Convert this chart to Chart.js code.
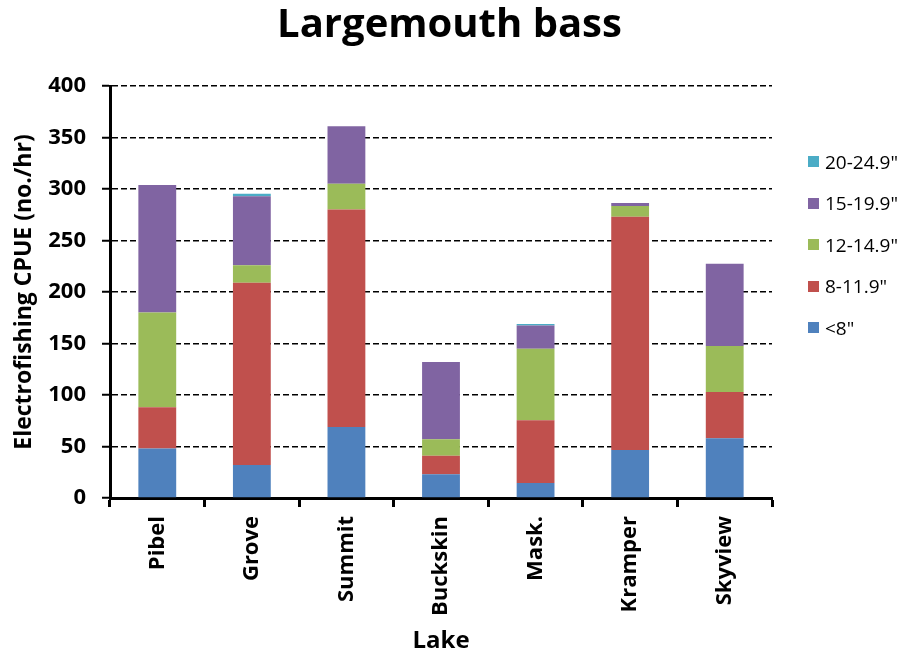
<!DOCTYPE html>
<html>
<head>
<meta charset="utf-8">
<title>Largemouth bass</title>
<script src="https://cdn.jsdelivr.net/npm/chart.js@4.4.0/dist/chart.umd.min.js"></script>
<style>
  body { margin: 0; background: #fff; }
  #wrap { position: relative; width: 899px; height: 656px; }
  #title {
    position: absolute; left: 0; top: -2px; width: 899px; text-align: center;
    font-family: "Open Sans", sans-serif; font-weight: bold; font-size: 40px; line-height: 48px; color: #000;
  }
  #legend {
    position: absolute; left: 808px; top: 141px; white-space: nowrap;
    font-family: "Open Sans", sans-serif; font-size: 19px; color: #000;
  }
  .legend-item { height: 41.5px; display: flex; align-items: center; }
  .legend-box { width: 11px; height: 11px; margin-right: 6px; }
</style>
</head>
<body>
<div id="wrap">
  <canvas id="chart" width="899" height="656"></canvas>
  <div id="title">Largemouth bass</div>
  <div id="legend"></div>
</div>
<script>
/* ── Data ────────────────────────────────────────────── */
const lakes = ['Pibel', 'Grove', 'Summit', 'Buckskin', 'Mask.', 'Kramper', 'Skyview'];

const under8   = [48, 32, 69, 23, 14.5, 46.5, 58];
const in8to12  = [40, 177, 211, 18, 61, 226.5, 45];
const in12to15 = [92, 17, 25, 16, 69.5, 10.5, 44.5];
const in15to20 = [124, 67, 56, 75, 22.5, 3, 80];
const in20to25 = [0, 2.5, 0, 0, 1.5, 0, 0];

const sizeClasses = ['<8"', '8-11.9"', '12-14.9"', '15-19.9"', '20-24.9"'];
const classColors = ['#4F81BD', '#C0504D', '#9BBB59', '#8064A2', '#4BACC6'];
const yTicks = [0, 50, 100, 150, 200, 250, 300, 350, 400];

/* ── Chart ───────────────────────────────────────────── */
const FONT = '"Open Sans", sans-serif';

const series = [under8, in8to12, in12to15, in15to20, in20to25];
const datasets = series.map((data, i) => ({
  label: sizeClasses[i],
  data,
  backgroundColor: classColors[i],
  borderWidth: 0,
  barPercentage: 0.4,
  categoryPercentage: 1
}));

new Chart(document.getElementById('chart'), {
  type: 'bar',
  data: { labels: lakes, datasets },
  options: {
    responsive: false,
    animation: false,
    devicePixelRatio: 1,
    layout: { padding: { left: 0, right: 127, top: 86, bottom: 0 } },
    plugins: {
      legend: { display: false },
      tooltip: { enabled: false }
    },
    scales: {
      x: {
        stacked: true,
        afterFit: s => { s.height = 158; },
        border: { display: true, color: '#000', width: 3 },
        grid: { drawOnChartArea: false, drawTicks: true, tickLength: 9, tickWidth: 3, tickColor: '#000' },
        ticks: {
          color: '#000', padding: 9, minRotation: 90, maxRotation: 90, autoSkip: false,
          font: { family: FONT, size: 22, weight: 'bold' }
        },
        title: {
          display: true, text: 'Lake', color: '#000',
          font: { family: FONT, size: 24, weight: 'bold' },
          padding: { top: 0, bottom: 0 }
        }
      },
      y: {
        stacked: true,
        min: 0,
        max: 400,
        afterFit: s => { s.width = 110; },
        afterBuildTicks: s => { s.ticks = yTicks.map(v => ({ value: v })); },
        border: { display: true, color: '#000', width: 3, dash: [6, 3] },
        grid: { color: '#000', lineWidth: 1.5, tickLength: 8, tickWidth: 2, tickColor: '#000' },
        ticks: {
          color: '#000', padding: 16,
          font: { family: FONT, size: 22, weight: 'bold' }
        },
        title: {
          display: true, text: 'Electrofishing CPUE (no./hr)', color: '#000',
          font: { family: FONT, size: 23, weight: 'bold' },
          padding: { top: 11, bottom: 0 }
        }
      }
    }
  }
});

/* ── Legend ──────────────────────────────────────────── */
document.getElementById('legend').innerHTML = sizeClasses.map((name, i) => `
  <div class="legend-item">
    <span class="legend-box" style="background:${classColors[i]}"></span>${name}
  </div>
`).reverse().join('');
</script>
</body>
</html>
